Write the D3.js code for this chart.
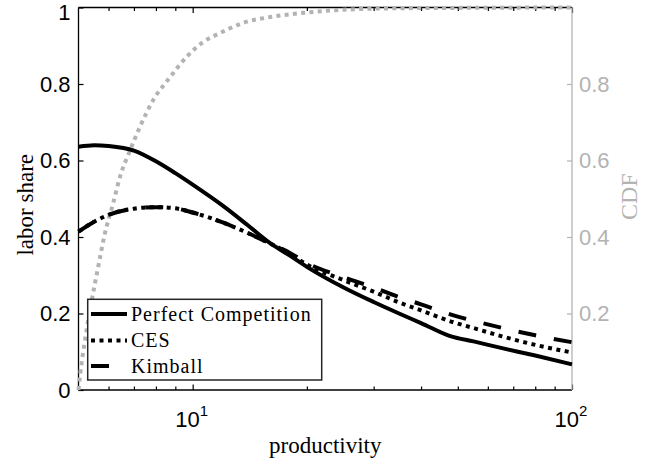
<!DOCTYPE html>
<html>
<head>
<meta charset="utf-8">
<script src="https://cdn.jsdelivr.net/npm/d3@7/dist/d3.min.js"></script>
<style>
  html, body { margin: 0; padding: 0; background: #fff; }
  svg { display: block; }
</style>
</head>
<body>
<svg id="chart" width="660" height="468"></svg>
<script>
// Labor share by productivity under three market structures, with the productivity CDF
const productivity = [5, 5.5, 6, 7, 8, 9, 10, 12, 14, 16, 18, 20, 25, 30, 35, 40, 48, 55, 65, 80, 100];
const perfectCompetition = [0.636, 0.640, 0.638, 0.626, 0.598, 0.567, 0.537, 0.482, 0.430, 0.384, 0.352, 0.322, 0.268, 0.230, 0.200, 0.175, 0.140, 0.127, 0.110, 0.090, 0.067];
const ces = [0.414, 0.440, 0.458, 0.474, 0.478, 0.475, 0.464, 0.438, 0.410, 0.383, 0.357, 0.328, 0.287, 0.257, 0.229, 0.208, 0.179, 0.162, 0.141, 0.118, 0.098];
const kimball = [0.414, 0.440, 0.458, 0.474, 0.478, 0.475, 0.464, 0.438, 0.410, 0.383, 0.359, 0.332, 0.295, 0.268, 0.243, 0.224, 0.197, 0.181, 0.163, 0.143, 0.125];

const cdfProductivity = [5, 5.05, 5.2, 5.42, 5.63, 5.87, 6.16, 6.43, 6.84, 7.26, 7.87, 8.72, 9.64, 10.66, 11.8, 13.6, 16, 19.6, 26, 35, 50, 100];
const cdf = [0, 0.04, 0.13, 0.235, 0.32, 0.41, 0.485, 0.557, 0.627, 0.688, 0.758, 0.818, 0.871, 0.91, 0.933, 0.96, 0.975, 0.986, 0.995, 0.998, 0.999, 1];

const xMajorTicks = [10, 100];
const xMinorTicks = [6, 7, 8, 9, 20, 30, 40, 50, 60, 70, 80, 90];
const xTickLabels = [["10", "1"], ["10", "2"]];
const leftTicks = [0, 0.2, 0.4, 0.6, 0.8, 1];
const leftTickLabels = ["0", "0.2", "0.4", "0.6", "0.8", "1"];
const rightTicks = [0.2, 0.4, 0.6, 0.8];
const rightTickLabels = ["0.2", "0.4", "0.6", "0.8"];
const seriesNames = ["Perfect Competition", "CES", "Kimball"];

const L = 78.5, R = 572, T = 7.5, B = 390;
const gray = "#b3b3b3";
const svg = d3.select("#chart");

const x = d3.scaleLog().domain([5, 100]).range([L, R]);
const yLeft = d3.scaleLinear().domain([0, 1]).range([B, T]);
const yRight = d3.scaleLinear().domain([0, 1]).range([B, T]);

const sans = "'Liberation Sans', Arial, Helvetica, sans-serif";
const serif = "'Liberation Serif', 'Times New Roman', serif";

// ---- axes ----
const axes = svg.append("g");
function styleAxis(g, color) {
  g.select(".domain").remove();
  g.selectAll("line").attr("stroke", color).attr("stroke-width", 1.2);
  g.selectAll("text").remove();
}
// bottom + top (ticks point inward)
axes.append("g").attr("transform", `translate(0,${B})`)
  .call(d3.axisBottom(x).tickValues(xMajorTicks).tickSize(-5.5).tickFormat(""))
  .call(g => styleAxis(g, "#000"));
axes.append("g").attr("transform", `translate(0,${B})`)
  .call(d3.axisBottom(x).tickValues(xMinorTicks).tickSize(-3.5).tickFormat(""))
  .call(g => styleAxis(g, "#000"));
axes.append("g").attr("transform", `translate(0,${T})`)
  .call(d3.axisTop(x).tickValues(xMajorTicks).tickSize(-5.5).tickFormat(""))
  .call(g => styleAxis(g, "#000"));
axes.append("g").attr("transform", `translate(0,${T})`)
  .call(d3.axisTop(x).tickValues(xMinorTicks).tickSize(-3.5).tickFormat(""))
  .call(g => styleAxis(g, "#000"));
// left
axes.append("g").attr("transform", `translate(${L},0)`)
  .call(d3.axisLeft(yLeft).tickValues(leftTicks).tickSize(-5).tickFormat(""))
  .call(g => styleAxis(g, "#000"));
// right
axes.append("g").attr("transform", `translate(${R},0)`)
  .call(d3.axisRight(yRight).tickValues(rightTicks).tickSize(-5).tickFormat(""))
  .call(g => styleAxis(g, gray));

// axis lines
axes.append("line").attr("x1", L).attr("x2", R).attr("y1", B).attr("y2", B).attr("stroke", "#000").attr("stroke-width", 1.3);
axes.append("line").attr("x1", L).attr("x2", R).attr("y1", T).attr("y2", T).attr("stroke", "#000").attr("stroke-width", 1.3);
axes.append("line").attr("x1", L).attr("x2", L).attr("y1", T).attr("y2", B).attr("stroke", "#000").attr("stroke-width", 1.3);
axes.append("line").attr("x1", R).attr("x2", R).attr("y1", T).attr("y2", B).attr("stroke", gray).attr("stroke-width", 1.3);

// tick labels (the top one is nudged down so it stays inside the page)
svg.append("g").selectAll("text").data(leftTicks).join("text")
  .attr("x", L - 8).attr("y", d => Math.max(yLeft(d), 12.5)).attr("dy", "0.36em")
  .attr("text-anchor", "end").attr("font-family", sans).attr("font-size", 22).attr("fill", "#000")
  .text((d, i) => leftTickLabels[i]);
svg.append("g").selectAll("text").data(rightTicks).join("text")
  .attr("x", R + 7).attr("y", d => yRight(d)).attr("dy", "0.36em")
  .attr("text-anchor", "start").attr("font-family", sans).attr("font-size", 22).attr("fill", gray)
  .text((d, i) => rightTickLabels[i]);
const xl = svg.append("g").selectAll("text").data(xMajorTicks).join("text")
  .attr("x", d => x(d) - 1).attr("y", 427)
  .attr("text-anchor", "middle").attr("font-family", sans).attr("font-size", 22).attr("fill", "#000");
xl.append("tspan").text((d, i) => xTickLabels[i][0]);
xl.append("tspan").attr("font-size", 15).attr("dy", -11).text((d, i) => xTickLabels[i][1]);

// axis titles
svg.append("text").attr("x", (L + R) / 2).attr("y", 453).attr("text-anchor", "middle")
  .attr("font-family", serif).attr("font-size", 23).attr("fill", "#000").text("productivity");
svg.append("text").attr("transform", `translate(33,${(T + B) / 2 + 6}) rotate(-90)`).attr("text-anchor", "middle")
  .attr("font-family", serif).attr("font-size", 23).attr("fill", "#000").text("labor share");
svg.append("text").attr("transform", `translate(637,${(T + B) / 2 - 2}) rotate(-90)`).attr("text-anchor", "middle")
  .attr("font-family", serif).attr("font-size", 24).attr("fill", gray).text("CDF");

// ---- series ----
const lineLeft = d3.line().x(d => x(d[0])).y(d => yLeft(d[1])).curve(d3.curveMonotoneX);
const lineRight = d3.line().x(d => x(d[0])).y(d => yRight(d[1])).curve(d3.curveMonotoneX);

svg.append("path").datum(d3.zip(cdfProductivity, cdf)).attr("d", lineRight)
  .attr("fill", "none").attr("stroke", gray).attr("stroke-width", 4).attr("stroke-dasharray", "4,4.3");

const styles = [
  { dash: null },
  { dash: "4,4.5" },
  { dash: "18,18" }
];
const seriesValues = [perfectCompetition, ces, kimball];
seriesValues.forEach((vals, i) => {
  svg.append("path").datum(d3.zip(productivity, vals)).attr("d", lineLeft)
    .attr("fill", "none").attr("stroke", "#000").attr("stroke-width", 4)
    .attr("stroke-dasharray", styles[i].dash);
});

// ---- legend ----
const lg = svg.append("g");
lg.append("rect").attr("x", 87.7).attr("y", 299.3).attr("width", 234).attr("height", 80.7)
  .attr("fill", "#fff").attr("stroke", "#262626").attr("stroke-width", 1.5);
const legendRows = [314, 340.5, 366];
seriesNames.forEach((name, i) => {
  lg.append("line").attr("x1", 91).attr("x2", 127).attr("y1", legendRows[i]).attr("y2", legendRows[i])
    .attr("stroke", "#000").attr("stroke-width", 4).attr("stroke-dasharray", styles[i].dash);
  lg.append("text").attr("x", 131).attr("y", legendRows[i] + 6.5)
    .attr("font-family", serif).attr("font-size", 20).attr("letter-spacing", 1).attr("fill", "#000")
    .text(name);
});
</script>
</body>
</html>
